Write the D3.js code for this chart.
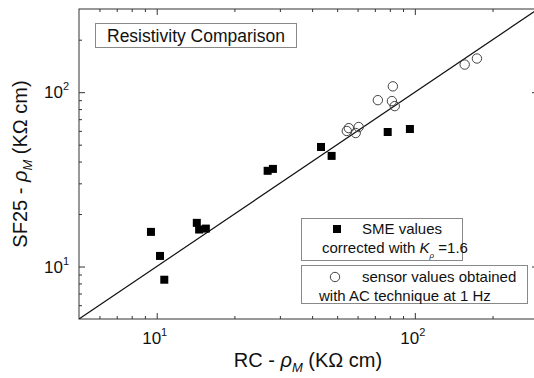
<!DOCTYPE html>
<html>
<head>
<meta charset="utf-8">
<script src="https://cdn.jsdelivr.net/npm/d3@7"></script>
<style>
  body { margin: 0; background: #fff; }
  svg { font-family: Arial, "Liberation Sans", sans-serif; }
</style>
</head>
<body>
<div id="chart"></div>
<script>
// SME values (filled squares)
var smeX = [9.5, 10.3, 10.7, 14.3, 14.6, 15.5, 26.9, 28.2, 43.3, 47.6, 78.5, 95.7];
var smeY = [15.8, 11.5, 8.4, 17.8, 16.3, 16.5, 35.4, 36.3, 48.5, 43.1, 59.1, 61.5];
// sensor values (open circles)
var sensX = [54.5, 55.5, 59.0, 60.6, 71.9, 81.5, 82.2, 83.6, 156, 174];
var sensY = [59.9, 62.2, 58.3, 63.1, 90.0, 88.9, 108, 83.2, 144, 156];

var majorTicks = [10, 100];
var majorExp = ["1", "2"];
var minorTicks = [6, 7, 8, 9, 20, 30, 40, 50, 60, 70, 80, 90, 200];
var domainLo = 5, domainHi = 300;

const margin = {top: 9, left: 79};
const W = 534, H = 378;
const width = 459, height = 310;

const svg = d3.select("#chart").append("svg")
    .attr("width", W).attr("height", H);
const g = svg.append("g")
    .attr("transform", `translate(${margin.left},${margin.top})`);

const x = d3.scaleLog().domain([domainLo, domainHi]).range([0, width]);
const y = d3.scaleLog().domain([domainLo, domainHi]).range([height, 0]);

// inward ticks on all four sides
function ticks(axisFn, vals, len, tr) {
  const a = g.append("g")
      .attr("transform", tr)
      .call(axisFn.tickValues(vals).tickSize(-len).tickFormat(""));
  a.select(".domain").remove();
  a.selectAll("line").attr("stroke", "#333");
}
ticks(d3.axisBottom(x), majorTicks, 6, `translate(0,${height})`);
ticks(d3.axisBottom(x), minorTicks, 3, `translate(0,${height})`);
ticks(d3.axisTop(x), majorTicks, 6, "translate(0,0)");
ticks(d3.axisTop(x), minorTicks, 3, "translate(0,0)");
ticks(d3.axisLeft(y), majorTicks, 6, "translate(0,0)");
ticks(d3.axisLeft(y), minorTicks, 3, "translate(0,0)");
ticks(d3.axisRight(y), majorTicks, 6, `translate(${width},0)`);
ticks(d3.axisRight(y), minorTicks, 3, `translate(${width},0)`);

g.append("rect")
    .attr("width", width).attr("height", height)
    .attr("fill", "none").attr("stroke", "#333").attr("stroke-width", 1);

// tick labels 10^n
majorTicks.forEach(function(v, i) {
  var t = g.append("text")
      .attr("x", x(v) - 2).attr("y", height + 25)
      .attr("text-anchor", "middle").style("font-size", "17px").attr("fill", "#111");
  t.append("tspan").text("10");
  t.append("tspan").attr("dy", -8).style("font-size", "11px").text(majorExp[i]);

  var tl = g.append("text")
      .attr("x", -10).attr("y", y(v) + 6)
      .attr("text-anchor", "end").style("font-size", "17px").attr("fill", "#111");
  tl.append("tspan").text("10");
  tl.append("tspan").attr("dy", -8).style("font-size", "11px").text(majorExp[i]);
});

// y = x line
const clip = svg.append("clipPath").attr("id", "clip")
  .append("rect").attr("width", width).attr("height", height);
g.append("line")
    .attr("clip-path", "url(#clip)")
    .attr("x1", x(domainLo)).attr("y1", y(domainLo))
    .attr("x2", x(domainHi)).attr("y2", y(domainHi))
    .attr("stroke", "#111").attr("stroke-width", 1.2);

// data
var sme = smeX.map((d, i) => ({x: d, y: smeY[i]}));
var sens = sensX.map((d, i) => ({x: d, y: sensY[i]}));

g.selectAll(".sens").data(sens).join("circle")
    .attr("class", "sens")
    .attr("cx", d => x(d.x)).attr("cy", d => y(d.y)).attr("r", 4.7)
    .attr("fill", "none").attr("stroke", "#444").attr("stroke-width", 1);

g.selectAll(".sme").data(sme).join("rect")
    .attr("class", "sme")
    .attr("x", d => x(d.x) - 4).attr("y", d => y(d.y) - 4)
    .attr("width", 8).attr("height", 8).attr("fill", "#000");

// title box
svg.append("rect").attr("x", 95.5).attr("y", 23.5).attr("width", 201).attr("height", 24)
    .attr("fill", "#fff").attr("stroke", "#888");
svg.append("text").attr("x", 107).attr("y", 42).style("font-size", "17.5px").attr("fill", "#111")
    .text("Resistivity Comparison");

// legend boxes
svg.append("rect").attr("x", 301.5).attr("y", 218.5).attr("width", 161).attr("height", 42)
    .attr("fill", "#fff").attr("stroke", "#888");
svg.append("rect").attr("x", 301.5).attr("y", 265.5).attr("width", 226).attr("height", 38)
    .attr("fill", "#fff").attr("stroke", "#888");

svg.append("rect").attr("x", 333).attr("y", 225).attr("width", 8).attr("height", 8).attr("fill", "#000");
svg.append("text").attr("x", 362).attr("y", 234).style("font-size", "15px").attr("fill", "#111")
    .text("SME values");
var l2 = svg.append("text").attr("x", 322).attr("y", 253).style("font-size", "15px").attr("fill", "#111");
l2.append("tspan").text("corrected with ");
l2.append("tspan").style("font-style", "italic").text("K");
l2.append("tspan").attr("dy", 5).style("font-size", "8px").style("font-style", "italic").text("ρ");
l2.append("tspan").attr("dy", -5).text(" =1.6");

svg.append("circle").attr("cx", 335).attr("cy", 277).attr("r", 4.7)
    .attr("fill", "none").attr("stroke", "#444");
svg.append("text").attr("x", 362).attr("y", 282).style("font-size", "15px").attr("fill", "#111")
    .text("sensor values obtained");
svg.append("text").attr("x", 319).attr("y", 301).style("font-size", "15px").attr("fill", "#111")
    .text("with AC technique at 1 Hz");

// axis titles
function axisTitle(t, base) {
  t.append("tspan").text(base + " - ");
  t.append("tspan").style("font-style", "italic").text("ρ");
  t.append("tspan").attr("dy", 5).style("font-size", "13px").style("font-style", "italic").text("M");
  t.append("tspan").attr("dy", -5).text(" (KΩ cm)");
}
axisTitle(svg.append("text").attr("x", 308).attr("y", 367)
    .attr("text-anchor", "middle").style("font-size", "20px").attr("fill", "#111"), "RC");
axisTitle(svg.append("text").attr("transform", "translate(27,164) rotate(-90)")
    .attr("text-anchor", "middle").style("font-size", "20px").attr("fill", "#111"), "SF25");
</script>
</body>
</html>
